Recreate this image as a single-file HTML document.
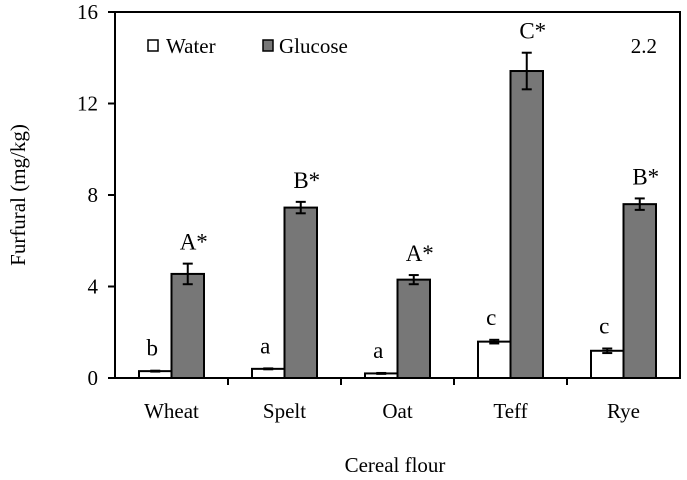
<!DOCTYPE html>
<html><head><meta charset="utf-8"><style>
html,body{margin:0;padding:0;background:#fff;}
svg{display:block;font-family:"Liberation Serif",serif;}
</style></head><body>
<svg id="chart" width="687" height="480" viewBox="0 0 687 480"></svg>
<script>
const categories = ["Wheat","Spelt","Oat","Teff","Rye"];
const waterValues = [0.3,0.4,0.2,1.59,1.19];
const waterErrors = [0.02,0.02,0.02,0.08,0.1];
const waterLetters = ["b","a","a","c","c"];
const glucoseValues = [4.55,7.45,4.3,13.42,7.6];
const glucoseErrors = [0.45,0.25,0.2,0.8,0.25];
const glucoseLetters = ["A*","B*","A*","C*","B*"];
const yTicks = [0,4,8,12,16];

const NS="http://www.w3.org/2000/svg";
const svg=document.getElementById('chart');
const X0=115,X1=680,Y0=378,Y1=12,YMAX=16;
const bandW=(X1-X0)/categories.length;
const barW=32.5;
function y(v){return Y0-(v/YMAX)*(Y0-Y1);}
function xc(i){return X0+bandW*(i+0.5);}
function mk(tag,attrs,parent){const e=document.createElementNS(NS,tag);for(const k in attrs)e.setAttribute(k,attrs[k]);(parent||svg).appendChild(e);return e;}

let f=mk('rect',{x:X0,y:Y1,width:X1-X0,height:Y0-Y1,fill:'none',stroke:'#000','stroke-width':2});



yTicks.forEach(t=>{
  const l=mk('line',{x1:X0-7,x2:X0,y1:y(t),y2:y(t),stroke:'#000','stroke-width':2});
  
  
  const tx=mk('text',{x:98,y:y(t)+7,'text-anchor':'end','font-size':21});
  tx.textContent=t;
  
  
});
for(let i=1;i<categories.length;i++){
  const xx=X0+bandW*i;
  const l=mk('line',{x1:xx,x2:xx,y1:Y0,y2:Y0+7,stroke:'#000','stroke-width':2});
  
  
}

categories.forEach((c,i)=>{
  const cx=xc(i);
  const wt=y(waterValues[i]);
  const wb=mk('rect',{x:cx-barW,y:wt,width:barW,height:Y0-wt,fill:'#fff',stroke:'#000','stroke-width':2});
  
  
  const gt=y(glucoseValues[i]);
  const gb=mk('rect',{x:cx,y:gt,width:barW,height:Y0-gt,fill:'#777',stroke:'#000','stroke-width':2});
  
  
  [[cx-barW/2,waterValues[i],waterErrors[i],'water'],[cx+barW/2,glucoseValues[i],glucoseErrors[i],'glucose']].forEach(([ex,v,e,s])=>{
    const g=mk('g',{stroke:'#000','stroke-width':2});
    
    
    mk('line',{x1:ex,x2:ex,y1:y(v+e),y2:y(v-e)},g);
    mk('line',{x1:ex-5,x2:ex+5,y1:y(v+e),y2:y(v+e)},g);
    mk('line',{x1:ex-5,x2:ex+5,y1:y(v-e),y2:y(v-e)},g);
  });
  const wl=mk('text',{x:cx-barW/2-3,y:y(waterValues[i]+waterErrors[i])-15,'text-anchor':'middle','font-size':23});
  wl.textContent=waterLetters[i];
  
  
  const gl=mk('text',{x:cx+barW/2+6,y:y(glucoseValues[i]+glucoseErrors[i])-14,'text-anchor':'middle','font-size':23});
  gl.textContent=glucoseLetters[i];
  
  
  const cl=mk('text',{x:cx,y:418,'text-anchor':'middle','font-size':21});
  cl.textContent=c;
  
  
});

const lg=mk('g',{});


mk('rect',{x:148,y:40,width:10,height:11,fill:'#fff',stroke:'#000','stroke-width':1.5},lg);
let t1=mk('text',{x:166,y:53,'font-size':21},lg);t1.textContent='Water';


mk('rect',{x:263,y:40,width:10,height:11,fill:'#777',stroke:'#000','stroke-width':1.5},lg);
let t2=mk('text',{x:279,y:53,'font-size':21},lg);t2.textContent='Glucose';



let pl=mk('text',{x:657,y:53,'text-anchor':'end','font-size':21});pl.textContent='2.2';



let xt=mk('text',{x:395,y:472,'text-anchor':'middle','font-size':21});xt.textContent='Cereal flour';


let yt=mk('text',{x:0,y:0,'text-anchor':'middle','font-size':21,transform:'translate(25,195) rotate(-90)'});yt.textContent='Furfural (mg/kg)';


</script>
</body></html>
